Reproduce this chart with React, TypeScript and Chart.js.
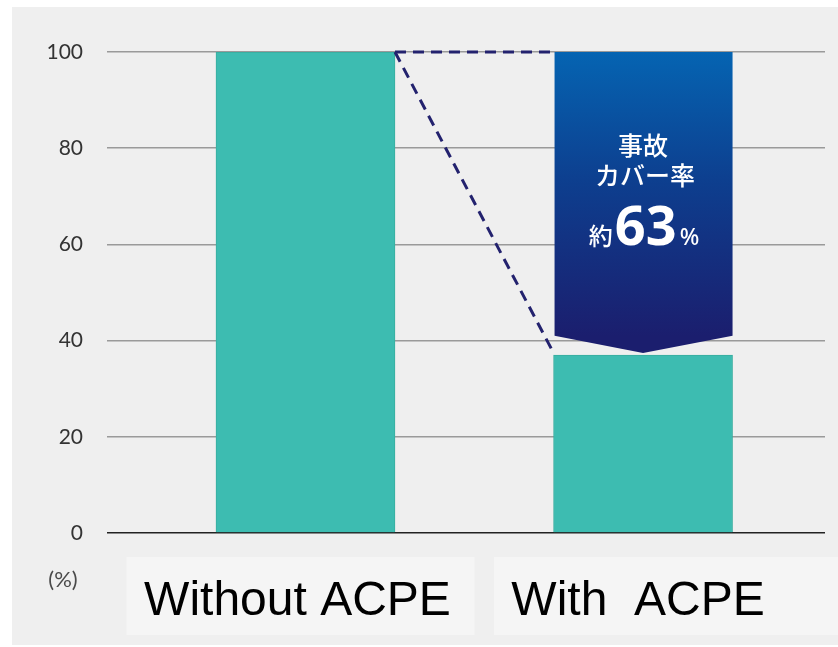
import React, { useEffect, useRef } from "react";
import { Chart, registerables } from "chart.js";

Chart.register(...registerables);

const categories = ["Without ACPE", "With  ACPE"];
const values = [100, 37];
const xPositions = [0, 1];
const yTicks = [0, 20, 40, 60, 80, 100];
const arrowRange = [100, 41, 37]; // top, shoulder, tip
const arrowLines = ["事故", "カバー率"];
const ratePrefix = "約";
const rateValue = "63";
const rateSuffix = "%";
const unitLabel = "(%)";

const overlayPlugin = {
  id: "overlay",
  beforeDraw(chart: any) {
    const { ctx, width, height } = chart;
    ctx.save();
    ctx.fillStyle = "#ffffff";
    ctx.fillRect(0, 0, width, height);
    ctx.fillStyle = "#efefef";
    ctx.fillRect(12, 7, width - 12, height - 9);
    ctx.restore();
  },
  afterDatasetsDraw(chart: any) {
    const { ctx, chartArea } = chart;
    const ys = chart.scales.y;
    const bars = chart.getDatasetMeta(0).data;
    const b1 = bars[0];
    const b2 = bars[1];
    const half2 = b2.width / 2;
    const left2 = b2.x - half2 + 1;
    const right2 = b2.x + half2;
    const yTop = ys.getPixelForValue(arrowRange[0]);
    const yShoulder = ys.getPixelForValue(arrowRange[1]);
    const yTip = ys.getPixelForValue(arrowRange[2]) - 2;

    ctx.save();
    // arrow
    const g = ctx.createLinearGradient(0, yTop, 0, yShoulder);
    g.addColorStop(0, "#0564b2");
    g.addColorStop(0.45, "#0d3f8f");
    g.addColorStop(1, "#1b1e6e");
    ctx.fillStyle = g;
    ctx.beginPath();
    ctx.moveTo(left2, yTop);
    ctx.lineTo(right2, yTop);
    ctx.lineTo(right2, yShoulder);
    ctx.lineTo(b2.x, yTip);
    ctx.lineTo(left2, yShoulder);
    ctx.closePath();
    ctx.fill();

    // dashed lines
    const x1 = b1.x + b1.width / 2;
    const y1 = b1.y;
    ctx.strokeStyle = "#23226e";
    ctx.lineWidth = 3;
    ctx.setLineDash([11, 7]);
    ctx.beginPath();
    ctx.moveTo(x1, y1);
    ctx.lineTo(left2, y1);
    ctx.stroke();
    ctx.beginPath();
    ctx.moveTo(x1, y1);
    ctx.lineTo(left2 - 2, b2.y - 4);
    ctx.stroke();
    ctx.setLineDash([]);

    // arrow text
    ctx.fillStyle = "#ffffff";
    ctx.textAlign = "center";
    ctx.textBaseline = "alphabetic";
    ctx.font = "500 25px 'Noto Sans CJK JP'";
    ctx.fillText(arrowLines[0], b2.x, yTop + 103);
    ctx.fillText(arrowLines[1], b2.x + 2, yTop + 133);
    // rate line
    ctx.textAlign = "left";
    const fSmall = "500 24px 'Noto Sans CJK JP'";
    const fBig = "bold 54px 'Noto Sans', 'DejaVu Sans', sans-serif";
    const fPct = "500 23px 'Noto Sans', sans-serif";
    ctx.font = fSmall;
    const wA = ctx.measureText(ratePrefix).width;
    ctx.font = fBig;
    const wB = ctx.measureText(rateValue).width;
    ctx.font = fPct;
    const wC = ctx.measureText(rateSuffix).width;
    const total = wA + 2 + wB + 3 + wC;
    let x = b2.x + 1 - total / 2;
    const base = yTop + 193;
    ctx.font = fSmall;
    ctx.fillText(ratePrefix, x, base);
    x += wA + 2;
    ctx.font = fBig;
    ctx.fillText(rateValue, x, base);
    x += wB + 3;
    ctx.font = fPct;
    ctx.fillText(rateSuffix, x, base);

    // unit label
    ctx.fillStyle = "#4a4a4a";
    ctx.textAlign = "center";
    ctx.font = "22px Lato, sans-serif";
    ctx.fillText(unitLabel, chartArea.left - 44, chartArea.bottom + 54);

    // category label boxes
    const boxTop = chartArea.bottom + 24;
    const boxH = 78;
    ctx.fillStyle = "#f5f5f5";
    ctx.fillRect(b1.x - 179, boxTop, 348, boxH);
    ctx.fillRect(b2.x - 149, boxTop, chart.width - (b2.x - 149), boxH);
    ctx.fillStyle = "#000000";
    ctx.font = "48px 'Liberation Sans', Arial, sans-serif";
    ctx.textAlign = "center";
    ctx.fillText(categories[0], b1.x - 8, chartArea.bottom + 82);
    ctx.fillText(categories[1], b2.x - 5, chartArea.bottom + 82);
    ctx.restore();
  },
};

export default function App() {
  const ref = useRef<HTMLCanvasElement>(null);
  useEffect(() => {
    if (!ref.current) return;
    const chart = new Chart(ref.current, {
      type: "bar",
      data: {
        datasets: [
          {
            data: xPositions.map((x, i) => ({ x, y: values[i] })),
            backgroundColor: "#3dbcb1",
            borderColor: "#37ad9f",
            borderWidth: 1,
            barThickness: 179,
          },
        ],
      },
      options: {
        animation: false,
        responsive: false,
        maintainAspectRatio: false,
        layout: { padding: { left: 0, top: 52, right: 13, bottom: 114 } },
        plugins: { legend: { display: false }, tooltip: { enabled: false } },
        scales: {
          x: {
            type: "linear",
            min: -0.588,
            max: 1.539,
            offset: false,
            bounds: "ticks",
            display: false,
            afterDataLimits: (s: any) => {
              s.min = -0.588;
              s.max = 1.539;
            },
          },
          y: {
            min: 0,
            max: 100,
            afterBuildTicks: (s: any) => {
              s.ticks = yTicks.map((v) => ({ value: v }));
            },
            afterFit: (s: any) => {
              s.width = 107;
            },
            border: { display: false },
            grid: {
              drawTicks: false,
              color: (c: any) => (c.tick && c.tick.value === 0 ? "#222222" : "#9a9a9a"),
              lineWidth: 1.5,
            },
            ticks: {
              padding: 24,
              color: "#333333",
              font: { family: "Lato, 'Noto Sans', sans-serif", size: 21 },
            },
          },
        },
      },
      plugins: [overlayPlugin],
    });
    return () => chart.destroy();
  }, []);
  return (
    <div style={{ position: "fixed", left: 0, top: 0, width: 838, height: 647 }}>
      <canvas ref={ref} width={838} height={647} style={{ width: 838, height: 647 }} />
    </div>
  );
}
